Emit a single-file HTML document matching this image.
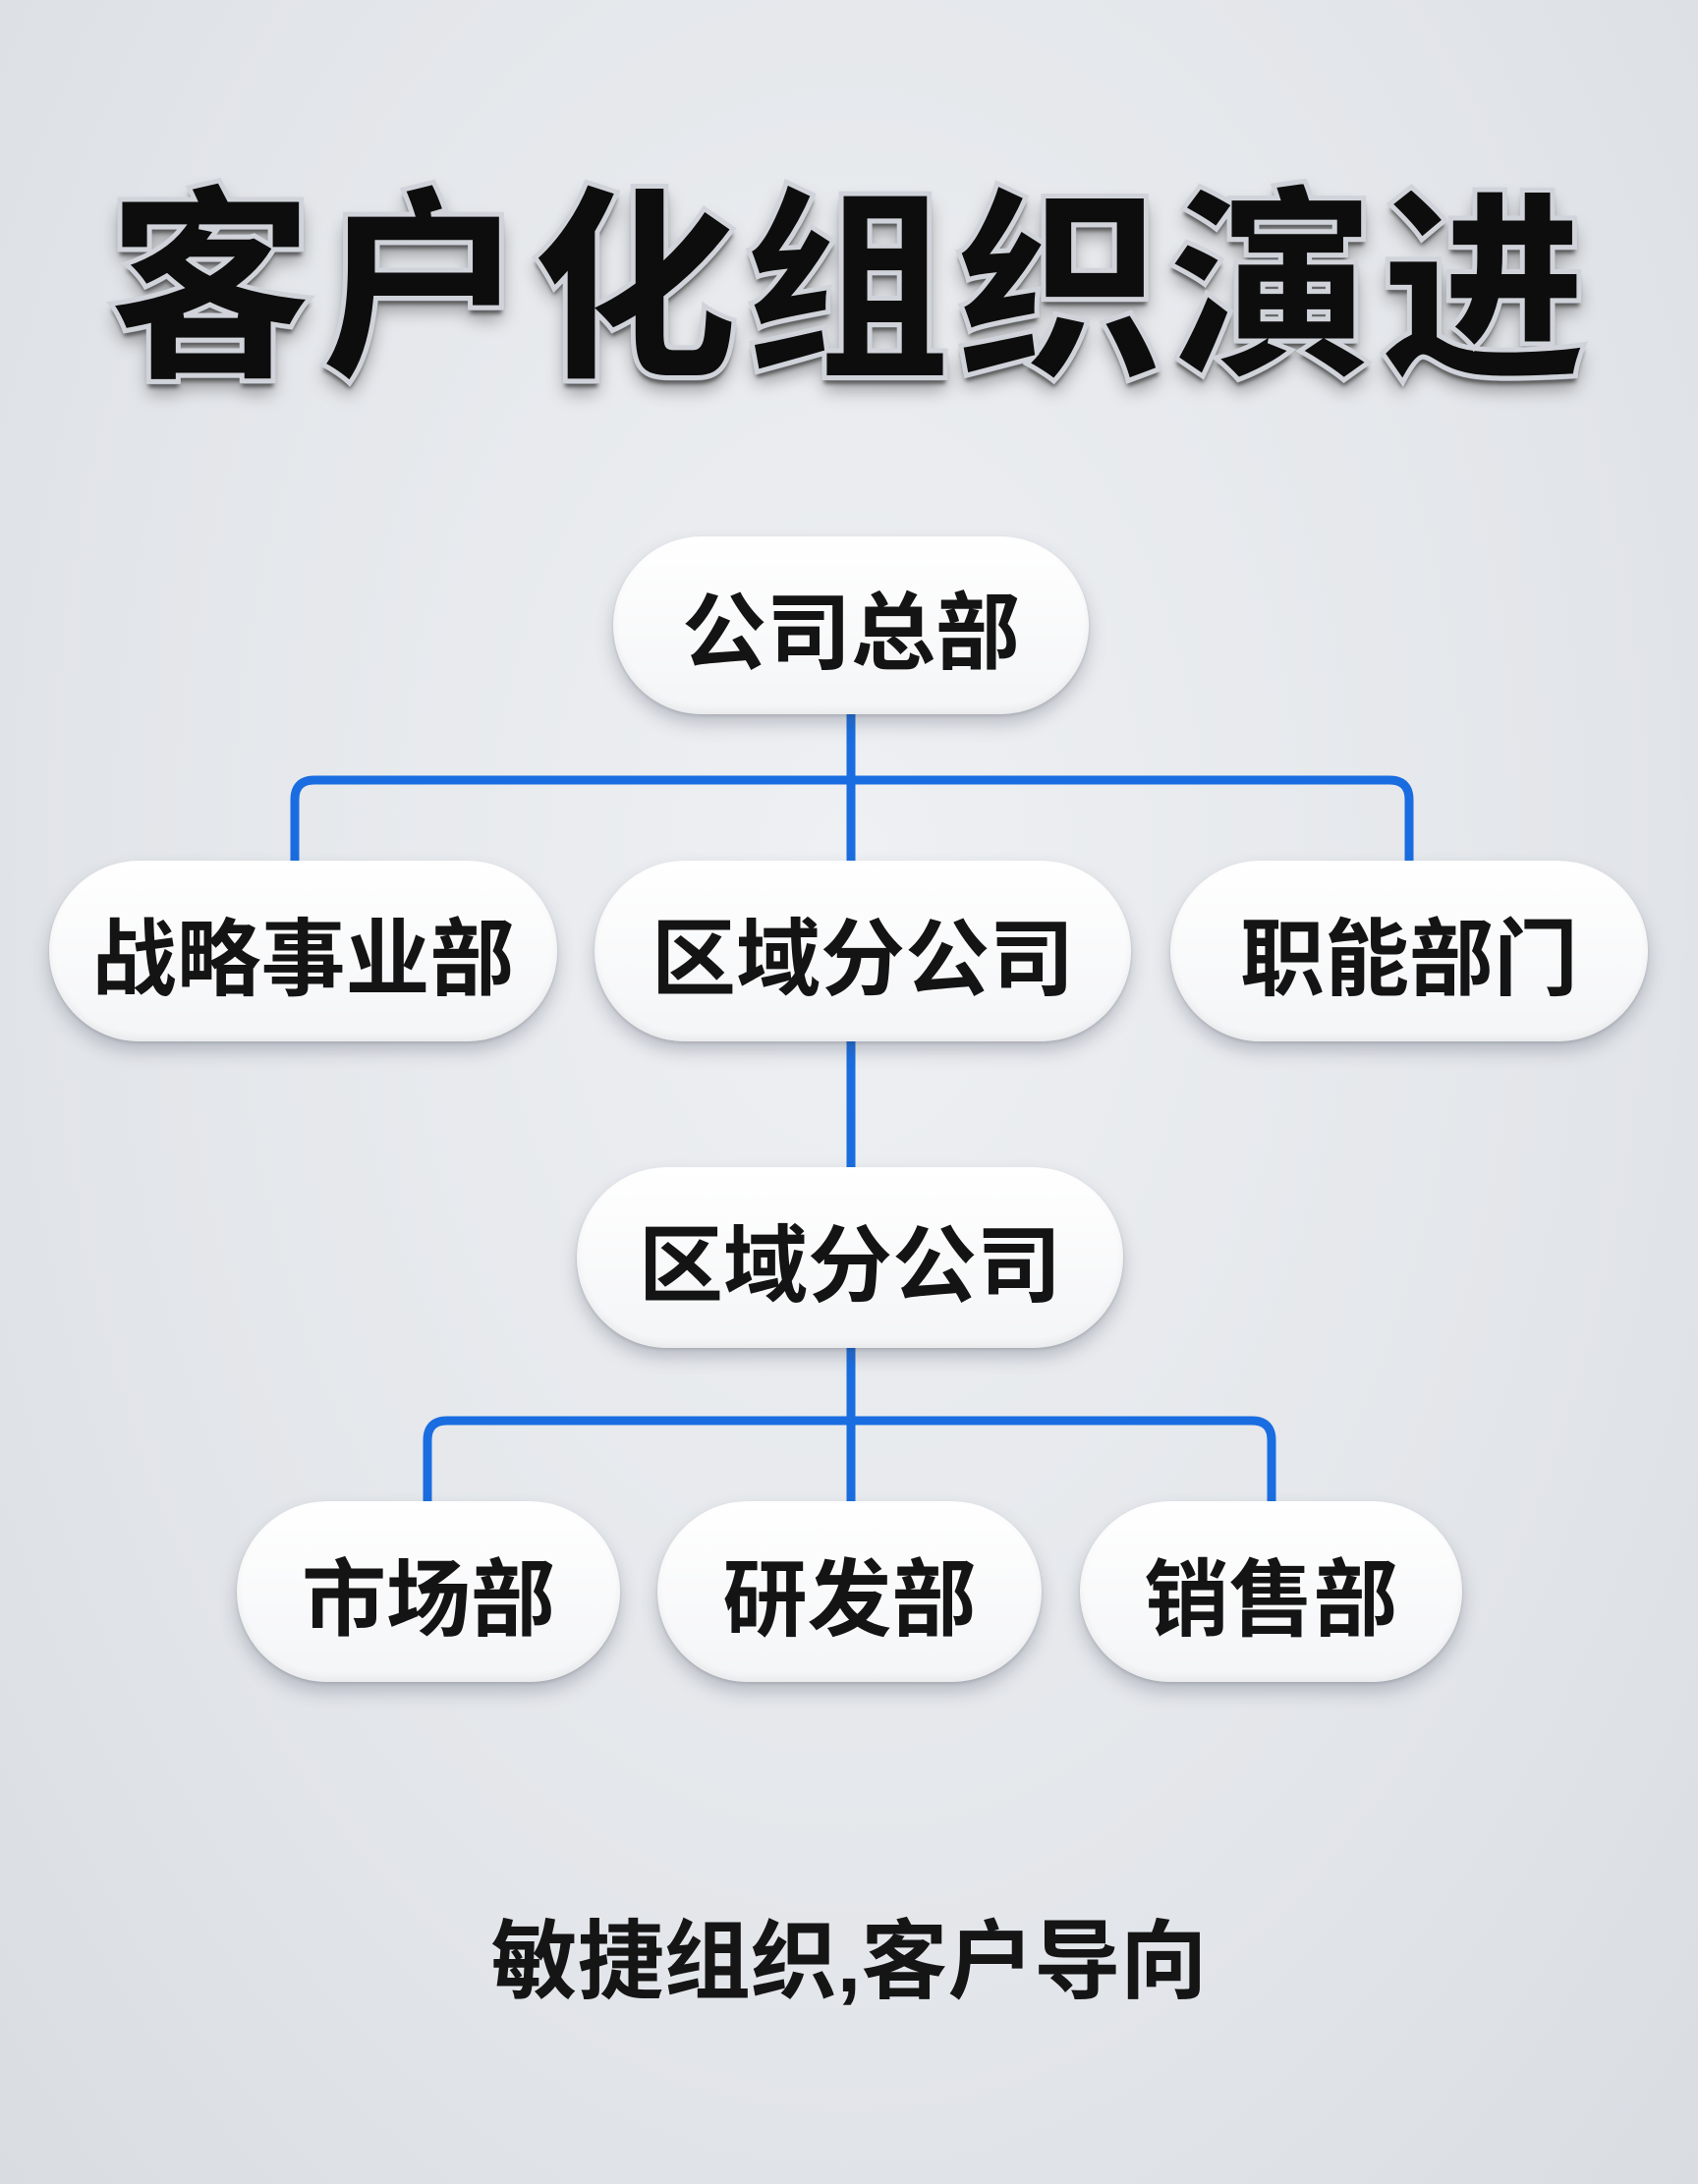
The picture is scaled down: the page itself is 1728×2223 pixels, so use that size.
<!DOCTYPE html>
<html><head><meta charset="utf-8"><style>
html,body{margin:0;padding:0}
body{width:1728px;height:2223px;position:relative;overflow:hidden;
background:radial-gradient(ellipse at 50% 40%,#eef0f3 0%,#e3e6ea 60%,#d9dde2 100%);
font-family:"Liberation Sans","Noto Sans CJK SC",sans-serif}
.title{position:absolute;left:0;top:165px;width:1728px;text-align:center;font-size:212px;font-weight:900;
color:#0d0d0d;letter-spacing:4px;line-height:260px;
-webkit-text-stroke:5px #d0d4da;
text-shadow:0 3px 0 #8a9099,0 6px 4px #555,0 12px 18px rgba(0,0,0,.35)}
.node{position:absolute;box-sizing:border-box;border-radius:95px;
background:linear-gradient(#ffffff,#f4f5f7);
box-shadow:0 10px 18px rgba(60,70,90,.28),0 2px 3px rgba(0,0,0,.12),inset 0 -4px 8px rgba(0,0,0,.05);
display:flex;align-items:center;justify-content:center;font-size:86px;font-weight:700;color:#141414}
.foot{position:absolute;left:0;width:1728px;top:1926px;text-align:center;font-size:88px;font-weight:700;color:#151515}
svg{position:absolute;left:0;top:0}
</style></head><body>
<div class="title">客户化组织演进</div>
<svg width="1728" height="2223">
<g fill="none" stroke="#1a6de0" stroke-width="9" stroke-linejoin="round">
<line x1="866" y1="727" x2="866" y2="880"/>
<path d="M300 880 V814 Q300 794 320 794 H1414 Q1434 794 1434 814 V880"/>
<line x1="866" y1="1060" x2="866" y2="1190"/>
<line x1="866" y1="1372" x2="866" y2="1530"/>
<path d="M435 1530 V1466 Q435 1446 455 1446 H1274 Q1294 1446 1294 1466 V1530"/>
</g>
</svg>
<div class="node" style="left:624px;top:546px;width:484px;height:181px">公司总部</div>
<div class="node" style="left:50px;top:876px;width:517px;height:184px">战略事业部</div>
<div class="node" style="left:605px;top:876px;width:546px;height:184px">区域分公司</div>
<div class="node" style="left:1191px;top:876px;width:486px;height:184px">职能部门</div>
<div class="node" style="left:587px;top:1188px;width:556px;height:184px">区域分公司</div>
<div class="node" style="left:241px;top:1528px;width:390px;height:184px">市场部</div>
<div class="node" style="left:669px;top:1528px;width:391px;height:184px">研发部</div>
<div class="node" style="left:1099px;top:1528px;width:389px;height:184px">销售部</div>
<div class="foot">敏捷组织,客户导向</div>
</body></html>
